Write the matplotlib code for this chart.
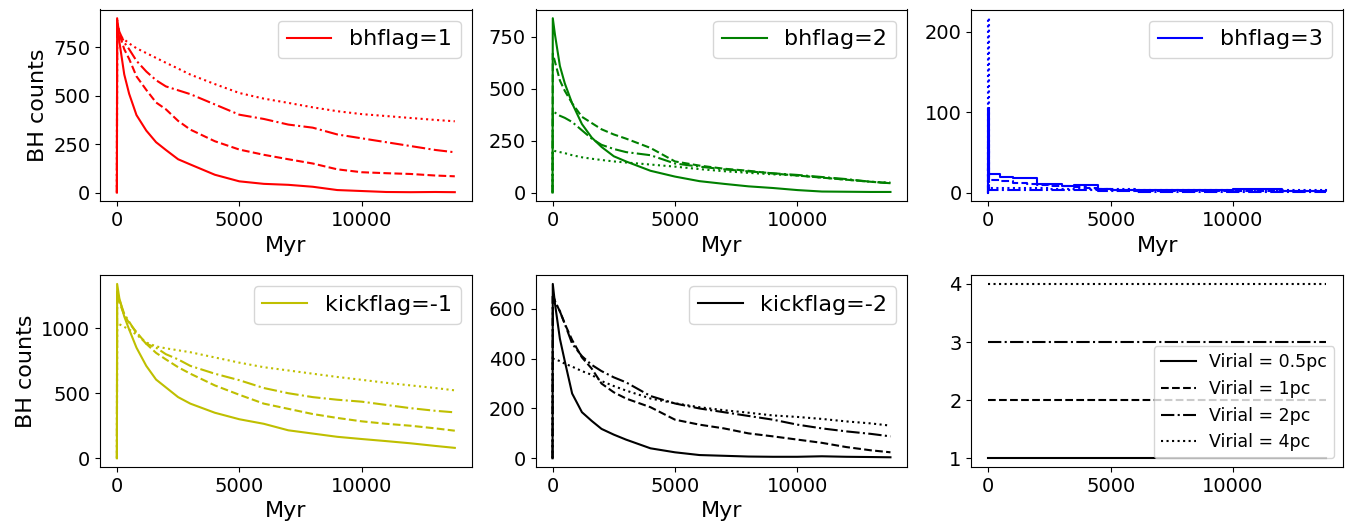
import numpy as np
import matplotlib
matplotlib.use("Agg")
import matplotlib.pyplot as plt

# time grid (Myr) used for most panels
t = [0, 10, 100, 300, 500, 800, 1200, 1600, 2000, 2500, 3000, 4000,
     5000, 6000, 7000, 8000, 9000, 10000, 11000, 12000, 13000, 13800]
# bhflag=3 is step-like, own grid
t3 = [0, 10, 50, 500, 1000, 1600, 2000, 2500, 3000, 3500, 4000, 4500,
      5000, 6000, 7000, 8000, 9000, 10000, 11000, 12000, 13000, 13800]

virial = ["0.5pc", "1pc", "2pc", "4pc"]
styles = ["-", "--", "-.", ":"]

# bhflag=1 (red)
bh1_05 = [0, 900, 780, 610, 510, 400, 320, 260, 220, 172, 145, 92, 58, 45, 40, 30, 13, 8, 3, 2, 3, 2]
bh1_1 = [0, 890, 820, 740, 690, 600, 530, 465, 430, 370, 325, 265, 222, 195, 172, 150, 120, 105, 100, 96, 88, 84]
bh1_2 = [0, 880, 830, 775, 740, 680, 625, 580, 548, 528, 508, 455, 402, 380, 351, 335, 300, 280, 260, 240, 220, 208]
bh1_4 = [0, 840, 810, 790, 770, 745, 720, 695, 670, 640, 609, 560, 514, 485, 463, 440, 420, 405, 395, 385, 375, 368]

# bhflag=2 (green)
bh2_05 = [0, 840, 760, 610, 526, 430, 330, 265, 220, 175, 150, 105, 77, 55, 42, 30, 22, 12, 5, 4, 3, 3]
bh2_1 = [0, 670, 630, 540, 490, 430, 365, 335, 305, 280, 260, 215, 150, 130, 115, 105, 92, 82, 72, 62, 52, 45]
bh2_2 = [0, 390, 385, 370, 360, 340, 300, 260, 230, 210, 195, 180, 140, 125, 112, 102, 93, 85, 75, 65, 52, 45]
bh2_4 = [0, 205, 200, 195, 190, 180, 170, 163, 157, 150, 145, 135, 125, 113, 103, 95, 88, 82, 72, 62, 52, 48]

# bhflag=3 (blue)
bh3_05 = [0, 105, 23, 20, 18, 18, 11, 11, 8, 9, 9, 5, 3, 3, 3, 3, 3, 4, 4, 2, 2, 3]
bh3_1 = [0, 60, 16, 14, 12, 11, 10, 8, 8, 7, 6, 5, 3, 2, 2, 2, 2, 2, 2, 2, 2, 2]
bh3_2 = [0, 30, 3, 3, 3, 3, 3, 3, 3, 3, 3, 2, 2, 1, 1, 1, 1, 1, 1, 1, 1, 1]
bh3_4 = [0, 217, 6, 6, 6, 6, 6, 5, 5, 5, 5, 4, 4, 3, 3, 3, 3, 3, 3, 3, 3, 3]

# kickflag=-1 (yellow)
k1_05 = [0, 1340, 1230, 1090, 990, 850, 710, 605, 545, 470, 420, 350, 300, 265, 215, 190, 165, 148, 132, 115, 95, 80]
k1_1 = [0, 1260, 1200, 1100, 1040, 970, 880, 810, 760, 700, 650, 560, 488, 420, 380, 340, 310, 284, 265, 250, 230, 212]
k1_2 = [0, 1280, 1220, 1110, 1050, 960, 880, 850, 800, 760, 710, 650, 600, 540, 500, 470, 450, 435, 410, 385, 365, 353]
k1_4 = [0, 1040, 1030, 1010, 990, 950, 890, 860, 845, 830, 815, 775, 735, 700, 675, 650, 625, 603, 580, 560, 540, 522]

# kickflag=-2 (black)
k2_05 = [0, 700, 620, 480, 390, 260, 185, 150, 118, 95, 75, 40, 24, 13, 10, 7, 6, 6, 8, 6, 5, 4]
k2_1 = [0, 660, 630, 590, 540, 475, 405, 360, 300, 265, 240, 205, 155, 135, 120, 100, 88, 75, 62, 45, 32, 24]
k2_2 = [0, 650, 630, 590, 540, 460, 410, 375, 350, 325, 305, 250, 220, 200, 185, 170, 155, 135, 120, 108, 98, 88]
k2_4 = [0, 400, 398, 390, 380, 368, 350, 335, 310, 290, 272, 240, 221, 205, 193, 183, 172, 166, 158, 148, 140, 131]

# reference panel: one constant line per virial radius
ref_t = [0, 13800]
ref_levels = [1, 2, 3, 4]

panels = [
    ("bhflag=1", "r", t, [bh1_05, bh1_1, bh1_2, bh1_4]),
    ("bhflag=2", "g", t, [bh2_05, bh2_1, bh2_2, bh2_4]),
    ("bhflag=3", "b", t3, [bh3_05, bh3_1, bh3_2, bh3_4]),
    ("kickflag=-1", "y", t, [k1_05, k1_1, k1_2, k1_4]),
    ("kickflag=-2", "k", t, [k2_05, k2_1, k2_2, k2_4]),
]

fig, axes = plt.subplots(2, 3, figsize=(13.53, 5.26), dpi=100)
fig.subplots_adjust(left=100/1353, right=1343/1353, bottom=1-467/526,
                    top=1-9.5/526, wspace=64/372, hspace=74/192)
axes = axes.flatten()

for i, (name, col, tt, series) in enumerate(panels):
    ax = axes[i]
    for j, y in enumerate(series):
        ds = "steps-post" if name == "bhflag=3" else "default"
        ax.plot(tt, y, color=col, linestyle=styles[j], drawstyle=ds,
                label=name if j == 0 else None)
    ax.legend(loc="upper right", fontsize=16)
    ax.set_xlabel("Myr", fontsize=16)
    ax.tick_params(labelsize=14)
    if i in (0, 3):
        ax.set_ylabel("BH counts", fontsize=16)

ax = axes[5]
for j, lev in enumerate(ref_levels):
    ax.plot(ref_t, [lev, lev], color="k", linestyle=styles[j],
            label="Virial = " + virial[j])
ax.legend(loc="lower right", fontsize=12.5)
ax.tick_params(labelsize=14)

fig.savefig("out.png", dpi=100)
